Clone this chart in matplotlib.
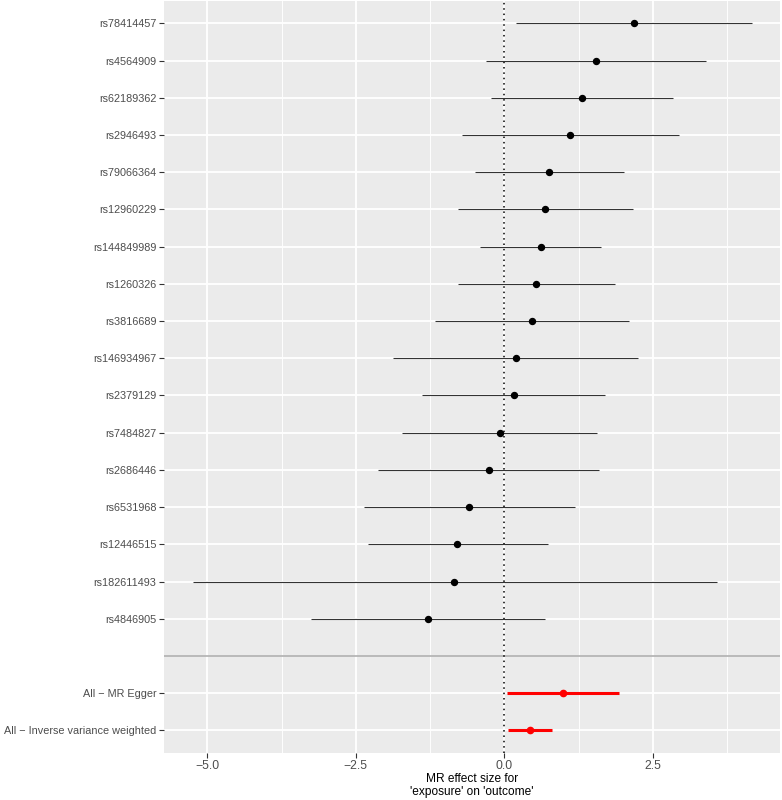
import matplotlib
matplotlib.use("Agg")
import matplotlib.pyplot as plt
from matplotlib.ticker import FixedLocator
import numpy as np

plt.rcParams['font.family'] = ['Liberation Sans', 'DejaVu Sans']

snps = ["rs78414457", "rs4564909", "rs62189362", "rs2946493", "rs79066364",
        "rs12960229", "rs144849989", "rs1260326", "rs3816689", "rs146934967",
        "rs2379129", "rs7484827", "rs2686446", "rs6531968", "rs12446515",
        "rs182611493", "rs4846905"]
snp_b = [2.18, 1.54, 1.31, 1.11, 0.75, 0.69, 0.61, 0.54, 0.47, 0.19,
         0.16, -0.08, -0.26, -0.59, -0.79, -0.84, -1.29]
snp_lo = [0.20, -0.31, -0.22, -0.71, -0.50, -0.78, -0.41, -0.78, -1.17, -1.87,
          -1.38, -1.72, -2.12, -2.36, -2.30, -5.25, -3.25]
snp_hi = [4.17, 3.40, 2.84, 2.94, 2.01, 2.17, 1.63, 1.87, 2.10, 2.25,
          1.70, 1.56, 1.60, 1.19, 0.73, 3.58, 0.68]

methods = ["All - MR Egger", "All - Inverse variance weighted"]
method_labels = ["All \u2212 MR Egger", "All \u2212 Inverse variance weighted"]
meth_b = [0.99, 0.43]
meth_lo = [0.04, 0.06]
meth_hi = [1.93, 0.81]

x_ticks = [-5.0, -2.5, 0.0, 2.5]
x_minor = [-3.75, -1.25, 1.25, 3.75]
x_tick_labels = ["\u22125.0", "\u22122.5", "0.0", "2.5"]
xlabel = "MR effect size for\n'exposure' on 'outcome'"

n_snp = len(snps)
n_meth = len(methods)
n_slots = n_snp + 1 + n_meth
snp_y = [n_slots - i for i in range(n_snp)]
sep_y = n_meth + 1
meth_y = [n_meth - i for i in range(n_meth)]

fig = plt.figure(figsize=(7.82, 8.00), dpi=100)
ax = fig.add_axes([164/782, 1 - 752.7/800, (780-164)/782, (752.7-1)/800])
ax.set_facecolor('#ebebeb')
for s in ax.spines.values():
    s.set_visible(False)

ax.set_xlim(-5.73, 4.64)
ax.set_ylim(0.4, n_slots + 0.6)

ax.xaxis.set_major_locator(FixedLocator(x_ticks))
ax.xaxis.set_minor_locator(FixedLocator(x_minor))
ax.set_xticklabels(x_tick_labels)
yt = snp_y + meth_y
ax.set_yticks(yt)
ax.set_yticklabels(snps + method_labels)

ax.grid(True, which='major', color='white', linewidth=1.3)
ax.grid(True, which='minor', axis='x', color='white', linewidth=0.65)
ax.set_axisbelow(True)

ax.tick_params(axis='both', which='major', length=3.5, width=0.8, color='#333333',
               labelcolor='#4d4d4d')
ax.tick_params(axis='y', labelsize=7.8, pad=2)
ax.tick_params(axis='x', labelsize=8.8, pad=2)
ax.tick_params(which='minor', length=0)

ax.axhline(sep_y, color='#b5b5b5', linewidth=1.3, zorder=2)
ax.axvline(0, color='black', linestyle=(0, (1, 2.5)), linewidth=1.1, zorder=3)

ax.hlines(snp_y, snp_lo, snp_hi, color='#333333', linewidth=0.8, zorder=4)
ax.plot(snp_b, snp_y, 'o', color='black', markersize=4.3, zorder=5)

ax.hlines(meth_y, meth_lo, meth_hi, color='#ff0000', linewidth=2.2, zorder=4)
ax.plot(meth_b, meth_y, 'o', color='#ff0000', markersize=4.5, zorder=5)

ax.set_xlabel(xlabel, fontsize=8.6, color='black', labelpad=0.5, linespacing=1.15)

fig.savefig("out.png", dpi=100)
